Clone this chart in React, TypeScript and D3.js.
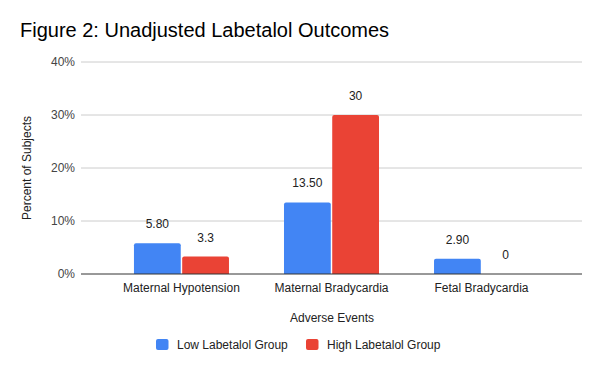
import React from 'react';
import * as d3 from 'd3';

const categories = ['Maternal Hypotension', 'Maternal Bradycardia', 'Fetal Bradycardia'];
const seriesNames = ['Low Labetalol Group', 'High Labetalol Group'];
const lowValues = [5.8, 13.5, 2.9];
const highValues = [3.3, 30, 0];
const lowLabels = ['5.80', '13.50', '2.90'];
const highLabels = ['3.3', '30', '0'];
const yTicks = [0, 10, 20, 30, 40];
const colors = ['#4285f4', '#ea4335'];

const W = 600, H = 371;
const margin = { top: 62, right: 18, bottom: 97, left: 81 };
const font = 'Arial, "Liberation Sans", sans-serif';

// bar with rounded top corners only
function topRounded(x: number, y: number, w: number, h: number, r: number) {
  if (h <= 0) return '';
  const rr = Math.min(r, h, w / 2);
  return `M${x},${y + h}V${y + rr}Q${x},${y} ${x + rr},${y}H${x + w - rr}Q${x + w},${y} ${x + w},${y + rr}V${y + h}Z`;
}

export default function App() {
  const x0 = d3.scaleBand().domain(categories).range([margin.left, W - margin.right])
    .paddingInner(0.3667).paddingOuter(0.353);
  const x1 = d3.scaleBand().domain(seriesNames).range([0, x0.bandwidth()]).paddingInner(0.03);
  const y = d3.scaleLinear().domain([0, 40]).range([H - margin.bottom, margin.top]);
  const series = [
    { name: seriesNames[0], values: lowValues, labels: lowLabels, color: colors[0] },
    { name: seriesNames[1], values: highValues, labels: highLabels, color: colors[1] },
  ];
  const yFmt = (d: number) => `${d}%`;

  return (
    <svg width={W} height={H} style={{ position: 'absolute', left: 0, top: 0, background: '#fff' }} fontFamily={font}>
      <text x={20} y={37} fontSize={20} fill="#000">Figure 2: Unadjusted Labetalol Outcomes</text>

      {yTicks.map(t => (
        <g key={t}>
          {t !== 0 && <line x1={margin.left} x2={W - margin.right} y1={y(t)} y2={y(t)} stroke="#cccccc" strokeWidth={1} />}
          <text x={75} y={y(t)} dy="0.35em" textAnchor="end" fontSize={12} fill="#444">{yFmt(t)}</text>
        </g>
      ))}

      {categories.map((c, i) => (
        <g key={c}>
          {series.map(s => {
            const bx = (x0(c) as number) + (x1(s.name) as number);
            const bw = x1.bandwidth();
            const top = y(s.values[i]);
            return (
              <g key={s.name}>
                <path d={topRounded(bx, top, bw, y(0) - top, 2)} fill={s.color} />
                <text x={bx + bw / 2} y={top - 15} textAnchor="middle" fontSize={12} fill="#222">{s.labels[i]}</text>
              </g>
            );
          })}
          <text x={(x0(c) as number) + x0.bandwidth() / 2} y={y(0) + 18} textAnchor="middle" fontSize={12} fill="#222">{c}</text>
        </g>
      ))}

      <line x1={margin.left} x2={W - margin.right} y1={y(0)} y2={y(0)} stroke="#333" strokeWidth={1} />

      <text transform={`translate(31,${(y(0) + y(40)) / 2}) rotate(-90)`} textAnchor="middle" fontSize={12} fill="#222">Percent of Subjects</text>
      <text x={332} y={322} textAnchor="middle" fontSize={12} fill="#222">Adverse Events</text>

      {series.map((s, i) => {
        const lx = i === 0 ? 156 : 306;
        return (
          <g key={s.name}>
            <rect x={lx} y={339} width={12.5} height={11} rx={2} fill={s.color} />
            <text x={lx + 21} y={345} dy="0.35em" fontSize={12} fill="#222">{s.name}</text>
          </g>
        );
      })}
    </svg>
  );
}
